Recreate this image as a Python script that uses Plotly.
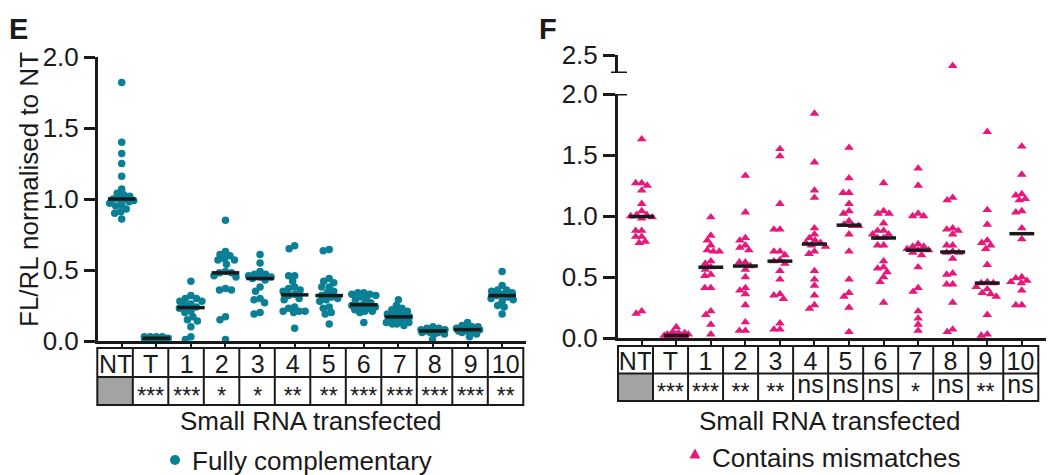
import numpy as np
import plotly.graph_objects as go

W, H = 1057, 475
FONT = "Liberation Sans, Arial, sans-serif"
INK = "#1a1a1a"
TEAL = "#0a7f95"
PINK = "#e6197b"

categories = ["NT", "T", "1", "2", "3", "4", "5", "6", "7", "8", "9", "10"]
sig_full = ["", "***", "***", "*", "*", "**", "**", "***", "***", "***", "***", "**"]
sig_mm = ["", "***", "***", "**", "**", "ns", "ns", "ns", "*", "ns", "**", "ns"]
legend_labels = ["Fully complementary", "Contains mismatches"]

# Panel E: fully complementary (FL/RL normalised to NT)
full_NT = [1.82, 1.40, 1.32, 1.25, 1.16, 1.07, 1.04, 1.03, 1.02, 1.0, 1.0, 1.0, 0.99,
           0.98, 0.97, 0.96, 0.95, 0.93, 0.91, 0.90, 0.86]
full_T = [0.03, 0.02, 0.02, 0.01, 0.03, 0.02, 0.01, 0.02, 0.03, 0.01, 0.02, 0.02, 0.03, 0.01, 0.02]
full_1 = [0.42, 0.32, 0.30, 0.30, 0.28, 0.28, 0.26, 0.25, 0.24, 0.23, 0.21, 0.20, 0.17, 0.15,
          0.14, 0.10, 0.03, 0.01]
full_2 = [0.85, 0.63, 0.61, 0.60, 0.58, 0.57, 0.57, 0.54, 0.49, 0.48, 0.48, 0.46, 0.45, 0.37,
          0.36, 0.36, 0.17, 0.15, 0.01]
full_3 = [0.61, 0.55, 0.49, 0.47, 0.47, 0.46, 0.45, 0.45, 0.44, 0.43, 0.38, 0.35, 0.30, 0.29,
          0.27, 0.20, 0.19]
full_4 = [0.67, 0.65, 0.46, 0.46, 0.42, 0.38, 0.37, 0.36, 0.35, 0.33, 0.32, 0.30, 0.29, 0.24,
          0.23, 0.21, 0.21, 0.21, 0.20, 0.09]
full_5 = [0.645, 0.635, 0.44, 0.42, 0.41, 0.38, 0.38, 0.35, 0.34, 0.32, 0.31, 0.30, 0.29, 0.28,
          0.24, 0.23, 0.20, 0.19, 0.12]
full_6 = [0.34, 0.34, 0.33, 0.33, 0.32, 0.31, 0.30, 0.29, 0.27, 0.26, 0.25, 0.25, 0.24, 0.23,
          0.23, 0.22, 0.21, 0.21, 0.20, 0.13]
full_7 = [0.29, 0.25, 0.23, 0.22, 0.21, 0.20, 0.19, 0.18, 0.18, 0.17, 0.17, 0.16, 0.16, 0.15,
          0.14, 0.13, 0.13, 0.12, 0.12, 0.11]
full_8 = [0.10, 0.09, 0.09, 0.08, 0.08, 0.08, 0.08, 0.07, 0.07, 0.07, 0.07, 0.06, 0.06, 0.06,
          0.05, 0.05, 0.01]
full_9 = [0.13, 0.11, 0.10, 0.10, 0.09, 0.09, 0.09, 0.08, 0.08, 0.08, 0.08, 0.07, 0.07, 0.07,
          0.06, 0.05, 0.03]
full_10 = [0.49, 0.39, 0.36, 0.36, 0.35, 0.34, 0.33, 0.32, 0.31, 0.30, 0.29, 0.28, 0.25, 0.24, 0.19]

# Panel F: contains mismatches
mm_NT = [1.63, 1.27, 1.27, 1.25, 1.21, 1.10, 1.04, 1.01, 1.01, 1.00, 0.99, 0.98, 0.88, 0.88,
         0.83, 0.83, 0.79, 0.78, 0.22, 0.20]
mm_T = [0.09, 0.05, 0.04, 0.04, 0.03, 0.03, 0.03, 0.02, 0.02, 0.02, 0.02, 0.02, 0.01, 0.01, 0.01, 0.01]
mm_1 = [0.99, 0.84, 0.80, 0.76, 0.72, 0.71, 0.71, 0.63, 0.61, 0.58, 0.56, 0.52, 0.51, 0.41,
        0.41, 0.22, 0.19, 0.11, 0.03]
mm_2 = [1.33, 1.03, 0.82, 0.80, 0.76, 0.74, 0.72, 0.62, 0.62, 0.59, 0.56, 0.50, 0.41, 0.39,
        0.36, 0.27, 0.13, 0.06, 0.06]
mm_3 = [1.55, 1.49, 1.10, 0.89, 0.89, 0.71, 0.71, 0.68, 0.64, 0.63, 0.61, 0.55, 0.48, 0.36,
        0.35, 0.32, 0.12, 0.07, 0.07]
mm_4 = [1.84, 1.44, 1.21, 1.15, 0.90, 0.85, 0.82, 0.80, 0.78, 0.78, 0.76, 0.75, 0.71, 0.69,
        0.55, 0.48, 0.43, 0.35, 0.27, 0.24]
mm_5 = [1.56, 1.31, 1.19, 1.19, 1.10, 1.04, 1.02, 0.96, 0.93, 0.92, 0.92, 0.85, 0.71, 0.48,
        0.37, 0.34, 0.25, 0.05]
mm_6 = [1.27, 1.04, 1.02, 1.02, 0.94, 0.88, 0.88, 0.85, 0.85, 0.82, 0.82, 0.76, 0.76, 0.63,
        0.58, 0.57, 0.54, 0.50, 0.46, 0.29]
mm_7 = [1.39, 1.25, 1.02, 1.00, 1.00, 0.77, 0.75, 0.75, 0.73, 0.72, 0.72, 0.70, 0.68, 0.58,
        0.41, 0.38, 0.22, 0.16, 0.11, 0.06]
mm_8 = [2.41, 1.15, 1.13, 0.90, 0.89, 0.88, 0.85, 0.76, 0.76, 0.71, 0.70, 0.70, 0.65, 0.53,
        0.52, 0.44, 0.44, 0.29, 0.07, 0.05]
mm_9 = [1.69, 1.05, 0.93, 0.80, 0.78, 0.76, 0.73, 0.60, 0.46, 0.45, 0.45, 0.42, 0.40, 0.37,
        0.36, 0.34, 0.19, 0.03, 0.02]
mm_10 = [1.57, 1.34, 1.18, 1.17, 1.14, 1.13, 1.04, 1.03, 0.90, 0.81, 0.50, 0.49, 0.47, 0.46,
         0.45, 0.39, 0.27, 0.27]

full_groups = [full_NT, full_T, full_1, full_2, full_3, full_4, full_5, full_6, full_7,
               full_8, full_9, full_10]
mm_groups = [mm_NT, mm_T, mm_1, mm_2, mm_3, mm_4, mm_5, mm_6, mm_7, mm_8, mm_9, mm_10]

# ---- geometry (pixels) ----
L_X0, L_X1, L_Y0, L_YTOP = 98, 526, 341, 57
R_X0, R_X1, R_Y0, R_YTOP = 618, 1046, 338, 94
R_BRK_TOP, R_BRK_BOT = 55, 73
L_XRANGE = [-0.686, 11.69]
R_XRANGE = [-0.686, 11.70]


def swarm(vals, px_per_unit, px_per_cat, diam, maxoff):
    vals = np.asarray(vals, dtype=float)
    order = np.argsort(-vals, kind="stable")
    steps = np.arange(0, maxoff + 0.01, 0.5)
    cands = sorted(set(list(steps) + list(-steps)), key=lambda c: (abs(c), c))
    placed = []
    offs = np.zeros(len(vals))
    for idx in order:
        y = vals[idx] * px_per_unit
        best, best_d = 0.0, -1.0
        for c in cands:
            d = min([np.hypot(c - px_, y - py_) for px_, py_ in placed] or [1e9])
            if d >= diam:
                best = c
                break
            if d > best_d + 0.3:
                best, best_d = c, d
        placed.append((best, y))
        offs[idx] = best / px_per_cat
    return offs


fig = go.Figure()
shapes, annotations = [], []

l_ppu = (L_Y0 - L_YTOP) / 2.0
l_ppc = (L_X1 - L_X0) / (L_XRANGE[1] - L_XRANGE[0])
r_ppu = (R_Y0 - R_YTOP) / 2.0
r_ppc = (R_X1 - R_X0) / (R_XRANGE[1] - R_XRANGE[0])

lx, ly = [], []
for i, g in enumerate(full_groups):
    offs = swarm(g, l_ppu, l_ppc, 6.0, 12)
    lx += list(i + offs)
    ly += list(g)
    m = float(np.median(g))
    shapes.append(dict(type="line", xref="x", yref="y", x0=i - 0.4, x1=i + 0.4, y0=m, y1=m,
                       line=dict(color=INK, width=3.5), layer="above"))

rx, ry, ux, uy = [], [], [], []
for i, g in enumerate(mm_groups):
    offs = swarm(g, r_ppu, r_ppc, 6.0, 12)
    for v, o in zip(g, offs):
        if v > 2.0:
            ux.append(i + o)
            uy.append(v)
        else:
            rx.append(i + o)
            ry.append(v)
    m = float(np.median(g))
    shapes.append(dict(type="line", xref="x2", yref="y2", x0=i - 0.36, x1=i + 0.36, y0=m, y1=m,
                       line=dict(color=INK, width=3.5), layer="above"))

fig.add_trace(go.Scatter(x=lx, y=ly, mode="markers", name=legend_labels[0], showlegend=False,
                         marker=dict(symbol="circle", size=7.5, color=TEAL),
                         xaxis="x", yaxis="y", cliponaxis=False))
fig.add_trace(go.Scatter(x=rx, y=ry, mode="markers", name=legend_labels[1], showlegend=False,
                         marker=dict(symbol="triangle-up", size=8.5, color=PINK),
                         xaxis="x2", yaxis="y2", cliponaxis=False))
fig.add_trace(go.Scatter(x=ux, y=uy, mode="markers", showlegend=False,
                         marker=dict(symbol="triangle-up", size=8.5, color=PINK),
                         xaxis="x2", yaxis="y3", cliponaxis=False))


def px(xp):
    return xp / W


def py(yp):
    return 1 - yp / H


# axis caps for the broken axis in panel F
for yref, val in (("y2", 2.0), ("y3", 2.35)):
    shapes.append(dict(type="line", xref="paper", yref=yref, x0=px(611), x1=px(627), y0=val, y1=val,
                       line=dict(color=INK, width=3)))


def table(x0, x1, ytop, ymid, ybot, sig):
    cw = (x1 - x0) / 12.0
    shapes.append(dict(type="rect", xref="paper", yref="paper", x0=px(x0), x1=px(x0 + cw),
                       y0=py(ybot), y1=py(ymid), fillcolor="#a3a3a3", line=dict(width=0)))
    shapes.append(dict(type="rect", xref="paper", yref="paper", x0=px(x0), x1=px(x1),
                       y0=py(ybot), y1=py(ytop), line=dict(color=INK, width=2)))
    shapes.append(dict(type="line", xref="paper", yref="paper", x0=px(x0), x1=px(x1),
                       y0=py(ymid), y1=py(ymid), line=dict(color=INK, width=2)))
    for k in range(1, 12):
        xx = x0 + k * cw
        shapes.append(dict(type="line", xref="paper", yref="paper", x0=px(xx), x1=px(xx),
                           y0=py(ybot), y1=py(ytop), line=dict(color=INK, width=2)))
    bw = cw - 4
    for k, lab in enumerate(categories):
        cx = x0 + (k + 0.5) * cw
        annotations.append(dict(text=lab, x=px(cx), y=py((ytop + ymid) / 2 + 1), xref="paper",
                                yref="paper", showarrow=False, xanchor="center", yanchor="middle",
                                width=bw, align="center",
                                font=dict(size=25, color=INK, family=FONT)))
        s = sig[k]
        if s:
            if s == "ns":
                annotations.append(dict(text=s, x=px(cx), y=py((ymid + ybot) / 2), xref="paper",
                                        yref="paper", showarrow=False, xanchor="center",
                                        yanchor="middle", yshift=3, width=bw, align="center",
                                        font=dict(size=25, color=INK, family=FONT)))
            else:
                annotations.append(dict(text=s, x=px(cx), y=py((ymid + ybot) / 2), xref="paper",
                                        yref="paper", showarrow=False, xanchor="center",
                                        yanchor="middle", yshift=-5, width=bw, align="center",
                                        font=dict(size=23, color=INK, family=FONT)))


table(97.3, 523.3, 348, 377, 405, sig_full)
table(618, 1038.3, 346, 373.5, 401, sig_mm)

for txt, cx in (("Small RNA transfected", 311), ("Small RNA transfected", 830)):
    annotations.append(dict(text=txt, x=px(cx), y=py(421), xref="paper", yref="paper",
                            showarrow=False, xanchor="center", yanchor="middle",
                            font=dict(size=26, color=INK, family=FONT)))

# legends drawn as symbol shapes + text
lcx, lcy = 175, 460
shapes.append(dict(type="circle", xref="paper", yref="paper", x0=px(lcx - 5), x1=px(lcx + 5),
                   y0=py(lcy + 5), y1=py(lcy - 5), fillcolor=TEAL, line=dict(width=0)))
annotations.append(dict(text=legend_labels[0], x=px(190), y=py(461), xref="paper", yref="paper",
                        showarrow=False, xanchor="left", yanchor="middle",
                        font=dict(size=26, color=INK, family=FONT)))
tcx, tcy = 695, 454
tri = "M {:.4f} {:.4f} L {:.4f} {:.4f} L {:.4f} {:.4f} Z".format(
    px(tcx - 5.5), py(tcy + 4.5), px(tcx + 5.5), py(tcy + 4.5), px(tcx), py(tcy - 5.5))
shapes.append(dict(type="path", xref="paper", yref="paper", path=tri, fillcolor=PINK,
                   line=dict(width=0)))
annotations.append(dict(text=legend_labels[1], x=px(710), y=py(458), xref="paper", yref="paper",
                        showarrow=False, xanchor="left", yanchor="middle",
                        font=dict(size=26, color=INK, family=FONT)))

annotations.append(dict(text="FL/RL normalised to NT", x=px(29), y=py(190), xref="paper", yref="paper",
                        showarrow=False, textangle=-90, xanchor="center", yanchor="middle",
                        font=dict(size=26, color=INK, family=FONT)))
for txt, xx in (("<b>E</b>", 7), ("<b>F</b>", 537)):
    annotations.append(dict(text=txt, x=px(xx), y=py(29), xref="paper", yref="paper",
                            showarrow=False, xanchor="left", yanchor="middle",
                            font=dict(size=29, color=INK, family=FONT)))

axis_common = dict(showgrid=False, zeroline=False, showline=True, linecolor=INK, linewidth=3,
                   ticks="outside", tickcolor=INK, automargin=False)
tickfont = dict(size=26, color=INK, family=FONT)

fig.update_layout(
    width=W, height=H, margin=dict(l=0, r=0, t=0, b=0, autoexpand=False),
    paper_bgcolor="white", plot_bgcolor="white", showlegend=False,
    font=dict(family=FONT, color=INK),
    xaxis=dict(domain=[px(L_X0), px(L_X1)], range=L_XRANGE, anchor="y",
               tickvals=list(range(12)), showticklabels=False, ticklen=4, tickwidth=2, **axis_common),
    yaxis=dict(domain=[py(L_Y0), py(L_YTOP)], range=[0, 2.0], anchor="x",
               tickvals=[0, 0.5, 1.0, 1.5, 2.0], tickformat=".1f", ticklen=11, tickwidth=3,
               tickfont=tickfont, **axis_common),
    xaxis2=dict(domain=[px(R_X0), px(R_X1)], range=R_XRANGE, anchor="y2",
                tickvals=list(range(12)), showticklabels=False, ticklen=4, tickwidth=2, **axis_common),
    yaxis2=dict(domain=[py(R_Y0), py(R_YTOP)], range=[0, 2.0], anchor="x2",
                tickvals=[0, 0.5, 1.0, 1.5, 2.0], tickformat=".1f", ticklen=12, tickwidth=3,
                tickfont=tickfont, **axis_common),
    yaxis3=dict(domain=[py(R_BRK_BOT), py(R_BRK_TOP)], range=[2.35, 2.5], anchor="x2",
                tickvals=[2.5], tickformat=".1f", ticklen=12, tickwidth=3, tickfont=tickfont,
                **axis_common),
    shapes=shapes, annotations=annotations,
)

fig.write_html("out.html")
